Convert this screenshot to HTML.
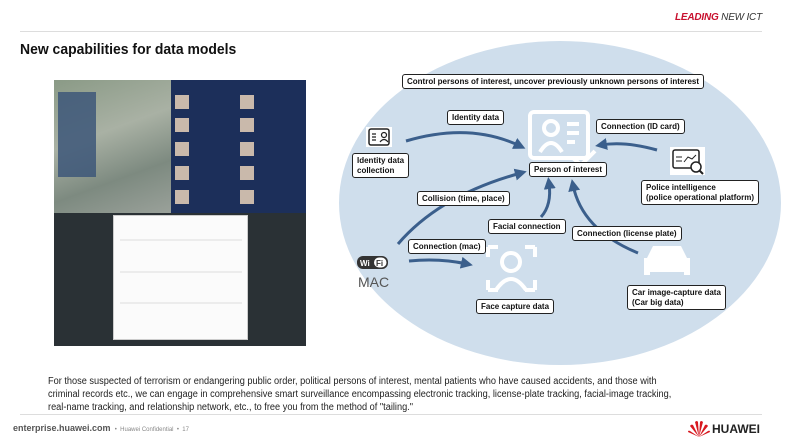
<!DOCTYPE html>
<html><head><meta charset="utf-8"><style>
*{margin:0;padding:0;box-sizing:border-box}
body{width:792px;height:446px;background:#fff;position:relative;overflow:hidden;font-family:"Liberation Sans",sans-serif}
.lbl{position:absolute;background:#fff;border:1px solid #222;border-radius:3px;font-size:8px;font-weight:bold;color:#111;padding:1px 4px;line-height:10px;white-space:nowrap;padding-top:2px}
.abs{position:absolute}
</style></head><body>
<div class="abs" style="right:30px;top:12px;font-size:10px;font-style:italic;font-weight:bold;color:#c8102e;letter-spacing:-0.2px">LEADING <span style="color:#333;font-weight:normal">NEW ICT</span></div>
<div class="abs" style="left:20px;top:31px;width:742px;height:1px;background:#ddd"></div>
<div class="abs" style="left:20px;top:41px;font-size:15px;font-weight:bold;color:#111;transform:scaleX(0.93);transform-origin:left">New capabilities for data models</div>

<div class="abs" style="left:54px;top:80px;width:117px;height:133px;background:linear-gradient(160deg,#8a9a86,#a9b1a4 40%,#7d8a80 70%,#9aa19a)"></div>
<div class="abs" style="left:58px;top:92px;width:38px;height:85px;background:#3d5779;opacity:.85"></div>
<div class="abs" style="left:171px;top:80px;width:135px;height:133px;background:#1c2f5a"></div>
<div class="abs" style="left:54px;top:213px;width:252px;height:133px;background:#2a3135"></div>
<div class="abs" style="left:113px;top:215px;width:135px;height:125px;background:#fbfbfb;border:1px solid #ccc"></div>
<svg class="abs" style="left:0;top:0" width="792" height="446">
<g fill="#c9b9ab">
<rect x="175" y="95" width="14" height="14"/><rect x="240" y="95" width="14" height="14"/>
<rect x="175" y="118" width="14" height="14"/><rect x="240" y="118" width="14" height="14"/>
<rect x="175" y="142" width="14" height="14"/><rect x="240" y="142" width="14" height="14"/>
<rect x="175" y="166" width="14" height="14"/><rect x="240" y="166" width="14" height="14"/>
<rect x="175" y="190" width="14" height="14"/><rect x="240" y="190" width="14" height="14"/>
</g>
<g stroke="#ddd" stroke-width="1"><line x1="120" y1="240" x2="242" y2="240"/><line x1="120" y1="272" x2="242" y2="272"/><line x1="120" y1="303" x2="242" y2="303"/></g>
<ellipse cx="560" cy="203" rx="221" ry="162" fill="#cfdeec"/>
<g fill="none" stroke="#fff" stroke-width="4">
<rect x="530" y="112" width="58" height="46" rx="4"/>
<circle cx="551" cy="128" r="7"/><path d="M540 152 q11-18 22 0"/>
<path d="M567 124h12M567 133h12M567 142h8"/>
<path d="M488 247v10M488 247h10M535 247h-10M535 247v10M488 290v-10M488 290h10M535 290h-10M535 290v-10"/>
<circle cx="511" cy="262" r="9"/><path d="M496 290 q15-22 30 0"/>
</g>
<path d="M573 158l8 7 14-14" stroke="#fff" stroke-width="4" fill="none"/>
<g fill="#fff"><path d="M647 258l6-12h28l6 12h3v17h-6v-3h-34v3h-6v-17z"/></g>
<rect x="366" y="127" width="26" height="20" fill="#fff"/>
<rect x="369" y="129" width="20" height="16" fill="none" stroke="#222" stroke-width="1.5" rx="2"/>
<path d="M372 134h4M372 137h4M372 140h4" stroke="#222" stroke-width="1.2"/>
<circle cx="384" cy="135" r="2.5" fill="none" stroke="#222" stroke-width="1.2"/><path d="M380 142q4-5 8 0" stroke="#222" fill="none" stroke-width="1.2"/>
<rect x="670" y="147" width="35" height="28" fill="#fff"/>
<rect x="673" y="150" width="26" height="18" fill="none" stroke="#222" stroke-width="1.5" rx="2"/>
<circle cx="696" cy="167" r="5" fill="#fff" stroke="#222" stroke-width="1.5"/><path d="M699 170l4 4" stroke="#222" stroke-width="2"/>
<path d="M676 157h6M676 161h6M684 162l4-5 4 2 4-4" stroke="#222" stroke-width="1" fill="none"/>
<rect x="357" y="256" width="31" height="13" rx="6" fill="#333"/>
<rect x="374" y="257.5" width="12.5" height="10" rx="5" fill="#fff"/>
<text x="360" y="266" font-size="8" font-weight="bold" fill="#fff" font-family="Liberation Sans">Wi</text>
<text x="376" y="266" font-size="8" font-weight="bold" fill="#333" font-family="Liberation Sans">Fi</text>
<text x="358" y="287" font-size="14" fill="#555" font-family="Liberation Sans">MAC</text>
<defs><marker id="a" markerWidth="4" markerHeight="4" refX="2" refY="2" orient="auto"><path d="M0 0L4 2L0 4z" fill="#3b5f8c"/></marker></defs>
<g stroke="#3b5f8c" stroke-width="3" fill="none" marker-end="url(#a)">
<path d="M406 141 Q470 122 520 146"/>
<path d="M657 150 Q625 141 601 145"/>
<path d="M398 244 Q440 195 521 173"/>
<path d="M409 261 Q440 258 467 264"/>
<path d="M541 217 Q552 205 549 183"/>
<path d="M638 253 Q582 230 573 185"/>
</g>
</svg>
<div class="lbl" style="left:402px;top:74px">Control persons of interest, uncover previously unknown persons of interest</div>
<div class="lbl" style="left:447px;top:110px">Identity data</div>
<div class="lbl" style="left:596px;top:119px">Connection (ID card)</div>
<div class="lbl" style="left:352px;top:153px">Identity data<br>collection</div>
<div class="lbl" style="left:529px;top:162px">Person of interest</div>
<div class="lbl" style="left:641px;top:180px">Police intelligence<br>(police operational platform)</div>
<div class="lbl" style="left:417px;top:191px">Collision (time, place)</div>
<div class="lbl" style="left:488px;top:219px">Facial connection</div>
<div class="lbl" style="left:572px;top:226px">Connection (license plate)</div>
<div class="lbl" style="left:408px;top:239px">Connection (mac)</div>
<div class="lbl" style="left:627px;top:285px">Car image-capture data<br>(Car big data)</div>
<div class="lbl" style="left:476px;top:299px">Face capture data</div>

<div class="abs" style="left:48px;top:375px;font-size:10px;line-height:13px;color:#222;white-space:nowrap;transform:scaleX(0.92);transform-origin:left">For those suspected of terrorism or endangering public order, political persons of interest, mental patients who have caused accidents, and those with<br>criminal records etc., we can engage in comprehensive smart surveillance encompassing electronic tracking, license-plate tracking, facial-image tracking,<br>real-name tracking, and relationship network, etc., to free you from the method of "tailing."</div>
<div class="abs" style="left:20px;top:414px;width:742px;height:1px;background:#ddd"></div>
<div class="abs" style="left:13px;top:423px;font-size:9px;font-weight:bold;color:#555">enterprise.huawei.com <span style="font-weight:normal;font-size:6px;color:#888">&nbsp;•&nbsp; Huawei Confidential &nbsp;•&nbsp; 17</span></div>
<svg class="abs" style="left:688px;top:418px" width="22" height="20"><g fill="#d71920"><path d="M11 19 L7 4 Q9 2 10 4z"/><path d="M11 19 L15 4 Q13 2 12 4z"/><path d="M11 19 L2 8 Q3 6 5 7z"/><path d="M11 19 L20 8 Q19 6 17 7z"/><path d="M11 19 L0 14 Q0 12 2 13z"/><path d="M11 19 L22 14 Q22 12 20 13z"/></g></svg>
<div class="abs" style="left:712px;top:422px;font-size:12px;font-weight:bold;color:#222">HUAWEI</div>
</body></html>
